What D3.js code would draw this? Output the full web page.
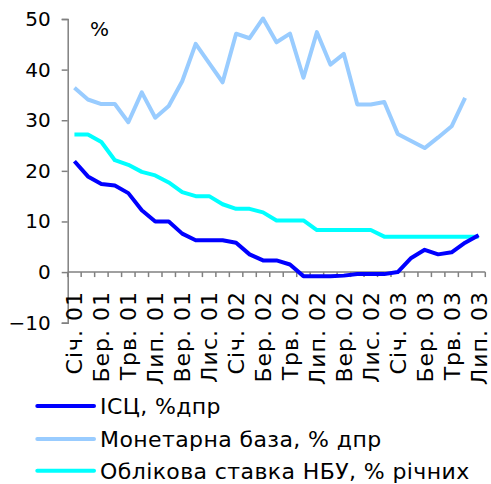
<!DOCTYPE html>
<html>
<head>
<meta charset="utf-8">
<script src="https://cdn.jsdelivr.net/npm/d3@7"></script>
<style>
  body { margin: 0; background: white; }
  text { font-family: "DejaVu Sans", Verdana, sans-serif; fill: black; }
</style>
</head>
<body>
<div id="chart"></div>
<script>
// Months Jan 2001 .. Jul 2003
const months = ['Січ. 01', 'Лют. 01', 'Бер. 01', 'Квт. 01', 'Трв. 01', 'Чрв. 01', 'Лип. 01', 'Сер. 01', 'Вер. 01', 'Жов. 01', 'Лис. 01', 'Гру. 01',
                'Січ. 02', 'Лют. 02', 'Бер. 02', 'Квт. 02', 'Трв. 02', 'Чрв. 02', 'Лип. 02', 'Сер. 02', 'Вер. 02', 'Жов. 02', 'Лис. 02', 'Гру. 02',
                'Січ. 03', 'Лют. 03', 'Бер. 03', 'Квт. 03', 'Трв. 03', 'Чрв. 03', 'Лип. 03'];

const cpi = [21.9, 18.9, 17.4, 17.1, 15.6, 12.2, 10.0, 10.0, 7.6, 6.3, 6.3, 6.3,
             5.8, 3.5, 2.3, 2.3, 1.5, -0.8, -0.8, -0.8, -0.7, -0.4, -0.4, -0.4,
             0.0, 2.8, 4.4, 3.5, 3.9, 5.8, 7.3];
const monetaryBase = [36.4, 34.1, 33.2, 33.2, 29.6, 35.5, 30.5, 32.8, 37.7, 45.1, 41.3, 37.5,
                      47.1, 46.2, 50.1, 45.4, 47.1, 38.4, 47.4, 41.0, 43.1, 33.1, 33.1, 33.6,
                      27.3, 25.9, 24.5, 26.6, 28.8, 34.4, null];
const discountRate = [27.2, 27.2, 25.7, 22.1, 21.2, 19.8, 19.1, 17.7, 15.8, 15.0, 15.0, 13.4,
                      12.5, 12.5, 11.8, 10.2, 10.2, 10.2, 8.3, 8.3, 8.3, 8.3, 8.3, 7.0,
                      7.0, 7.0, 7.0, 7.0, 7.0, 7.0, 7.0];

const yTicks = [-10, 0, 10, 20, 30, 40, 50];
const seriesNames = ['ІСЦ, %дпр', 'Монетарна база, % дпр', 'Облікова ставка НБУ, % річних'];

const width = 491, height = 484;
const plot = { left: 67.7, right: 485.3, top: 19, bottom: 322.7 };
const colors = ['#0000ff', '#99ccff', '#00ffff'];

const svg = d3.select('#chart').append('svg')
    .attr('width', width)
    .attr('height', height);

const x = d3.scaleBand()
    .domain(months)
    .range([plot.left, plot.right]);

const y = d3.scaleLinear()
    .domain([-10, 50])
    .range([plot.bottom, plot.top]);

const cx = d => x(d) + x.bandwidth() / 2;

// y axis
const yAxis = svg.append('g')
    .attr('transform', `translate(${plot.left},0)`)
    .call(d3.axisLeft(y).tickValues(yTicks).tickSize(6).tickPadding(11));
yAxis.select('.domain').attr('stroke', '#808080').attr('stroke-width', 1.5);
yAxis.selectAll('.tick line').attr('stroke', '#808080').attr('stroke-width', 1.5);
yAxis.selectAll('.tick text')
    .attr('font-size', '20px')
    .attr('font-family', '"DejaVu Sans", Verdana, sans-serif')
    .attr('fill', 'black');

// x axis at zero line, ticks between categories
const xAxis = svg.append('g')
    .attr('transform', `translate(0,${y(0)})`);
xAxis.append('line')
    .attr('x1', plot.left).attr('x2', plot.right)
    .attr('stroke', '#808080').attr('stroke-width', 1.5);
xAxis.selectAll('line.tk')
    .data(months.concat(['end']))
    .enter().append('line')
    .attr('class', 'tk')
    .attr('x1', (d, i) => i < months.length ? x(d) : plot.right)
    .attr('x2', (d, i) => i < months.length ? x(d) : plot.right)
    .attr('y1', 0).attr('y2', 5)
    .attr('stroke', '#808080').attr('stroke-width', 1.5);

// category labels, every other month
svg.append('g')
    .selectAll('text')
    .data(months.filter((d, i) => i % 2 === 0))
    .enter().append('text')
    .attr('transform', d => `translate(${cx(d) + 8},291) rotate(-90)`)
    .attr('text-anchor', 'end')
    .attr('font-size', '22px')
    .attr('letter-spacing', '1px')
    .text(d => d);

// unit label
svg.append('text')
    .attr('x', 90).attr('y', 36)
    .attr('font-size', '20px')
    .text('%');

// lines
const line = d3.line()
    .defined(d => d.v !== null)
    .x(d => cx(d.m))
    .y(d => y(d.v));

const series = [cpi, monetaryBase, discountRate];
const drawOrder = [1, 2, 0];
drawOrder.forEach(k => {
    svg.append('path')
        .datum(series[k].map((v, i) => ({ m: months[i], v: v })))
        .attr('fill', 'none')
        .attr('stroke', colors[k])
        .attr('stroke-width', 4)
        .attr('stroke-linejoin', 'round')
        .attr('d', line);
});

// legend
const legendY = [406, 439, 470.7];
const legend = svg.append('g');
seriesNames.forEach((name, k) => {
    legend.append('line')
        .attr('x1', 37.3).attr('x2', 94)
        .attr('y1', legendY[k]).attr('y2', legendY[k])
        .attr('stroke', colors[k])
        .attr('stroke-width', 4)
        .attr('stroke-linecap', 'round');
    legend.append('text')
        .attr('x', 100)
        .attr('y', legendY[k])
        .attr('dy', '0.36em')
        .attr('font-size', '22px')
        .attr('letter-spacing', '0.4px')
        .text(name);
});
</script>
</body>
</html>
